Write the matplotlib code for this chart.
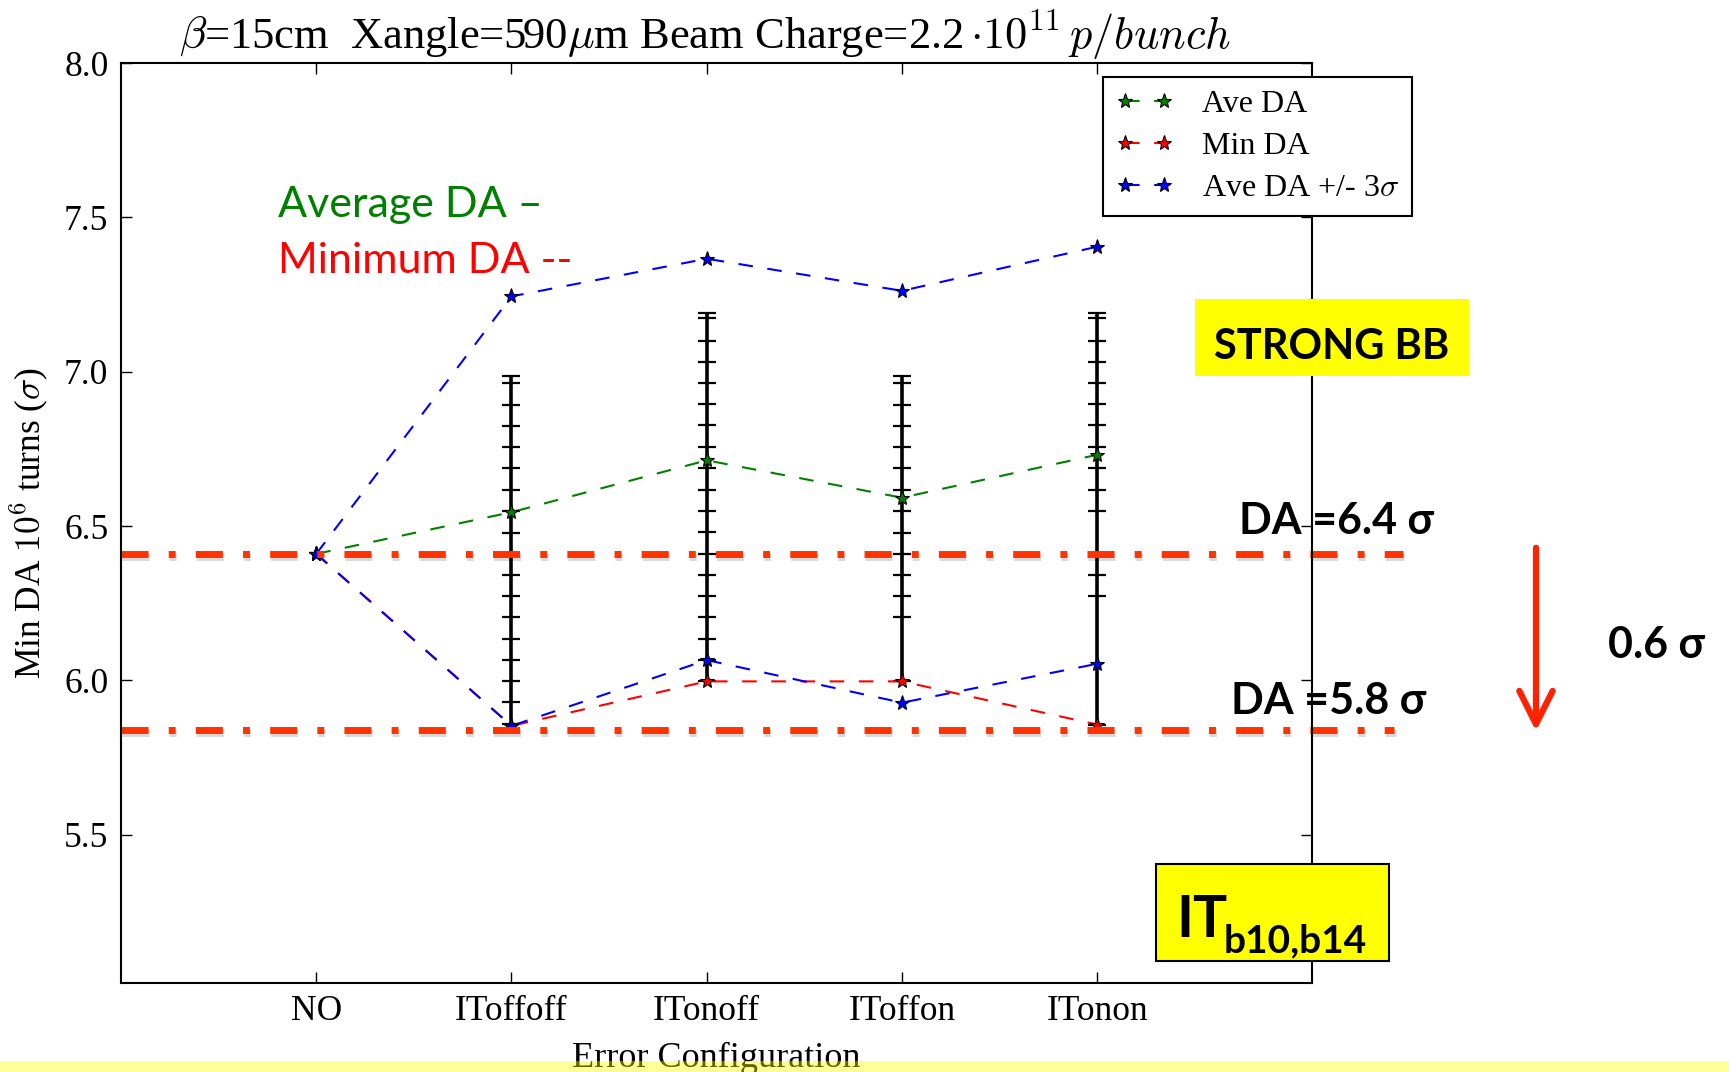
import matplotlib
matplotlib.use("Agg")
import matplotlib.pyplot as plt
import matplotlib.patheffects as pe
from matplotlib.patches import Rectangle, FancyArrowPatch
from matplotlib.transforms import blended_transform_factory

plt.rcParams['font.family'] = 'serif'
plt.rcParams['font.serif'] = ['Liberation Serif', 'DejaVu Serif']
plt.rcParams['mathtext.fontset'] = 'cm'

# données
configs = ['NO', 'IToffoff', 'ITonoff', 'IToffon', 'ITonon']
ave_da = [6.41, 6.545, 6.713, 6.592, 6.731]
min_da = [6.41, 5.853, 5.997, 5.997, 5.857]
ave_plus3 = [6.41, 7.244, 7.366, 7.262, 7.405]
ave_minus3 = [6.41, 5.853, 6.066, 5.928, 6.054]

# petites barres (caps) des barres d'erreur, par configuration
caps_offoff = [6.985, 6.964, 6.893, 6.825, 6.756, 6.687, 6.618, 6.549, 6.479, 6.411,
               6.342, 6.274, 6.204, 6.135, 6.067, 5.997, 5.929, 5.858, 5.84]
caps_onoff = [7.19, 7.173, 7.101, 7.032, 6.964, 6.895, 6.826, 6.756, 6.687, 6.618,
              6.550, 6.482, 6.411, 6.343, 6.274, 6.204, 6.135, 6.067, 5.997]
caps_offon = [6.985, 6.964, 6.893, 6.825, 6.756, 6.687, 6.618, 6.550, 6.479, 6.411,
              6.342, 6.274, 6.204, 5.997]
caps_onon = [7.19, 7.173, 7.101, 7.032, 6.964, 6.895, 6.826, 6.756, 6.687, 6.618,
             6.550, 6.411, 6.343, 6.274, 5.857]
caps_all = [None, caps_offoff, caps_onoff, caps_offon, caps_onon]

da_levels = [6.41, 5.84]

W, H = 1729, 1072
def fx(x):
    return x / W
def fy(y):
    return 1 - y / H

fig = plt.figure(figsize=(W / 100, H / 100), dpi=100)
ax = fig.add_axes([fx(121), fy(983), fx(1312) - fx(121), fy(63) - fy(983)])

xs = list(range(len(configs)))

# barres d'erreur
for i, caps in enumerate(caps_all):
    if caps is None:
        continue
    ax.vlines(i, min(caps), max(caps), color='k', lw=2.6, zorder=2.05)
    ax.plot([i] * len(caps), caps, ls='none', marker='_', ms=12.5, mew=1.6,
            color='k', zorder=2.05)

dash = (0, (7, 7))
ax.plot(xs, ave_da, ls=dash, lw=1.5, color='green', marker='*', ms=11,
        mec='k', mew=0.8, label='Ave DA', zorder=2.1)
ax.plot(xs, min_da, ls=dash, lw=1.5, color='red', marker='*', ms=11,
        mec='k', mew=0.8, label='Min DA', zorder=2.1)
ax.plot(xs, ave_plus3, ls=dash, lw=1.5, color='blue', marker='*', ms=11,
        mec='k', mew=0.8, label=r'Ave DA +/- 3$\sigma$', zorder=2.1)
ax.plot(xs, ave_minus3, ls=dash, lw=1.5, color='blue', marker='*', ms=11,
        mec='k', mew=0.8, zorder=2.1)

ax.set_xlim(-1, 5.1)
ax.set_ylim(5.02, 8.0)
ax.set_xticks(xs)
ax.set_xticklabels(configs)
ax.set_yticks([5.5, 6.0, 6.5, 7.0, 7.5, 8.0])
ax.tick_params(direction='in', length=8, width=1, top=True, right=True,
               labelsize=25.5, pad=9)
for s in ax.spines.values():
    s.set_linewidth(1.5)
ax.set_xlabel('Error Configuration', fontsize=26, labelpad=10)
ax.set_ylabel(r'Min DA $10^6$ turns ($\sigma$)', fontsize=25.5, labelpad=10)
ax.set_title(r'$\beta$=15cm  Xangle=590$\mu$m Beam Charge=2.2$\,{\cdot}10^{11}\,p/bunch$',
             fontsize=32, pad=10, x=0.49)

leg = ax.legend(loc='upper left', bbox_to_anchor=(fx(1103), fy(77)),
                bbox_transform=fig.transFigure, borderaxespad=0, numpoints=2,
                fontsize=23, handlelength=1.8, handletextpad=0.9,
                labelspacing=0.4, fancybox=False, framealpha=1)
leg.get_frame().set_edgecolor('k')
leg.get_frame().set_linewidth(1.5)

# lignes DA en tirets-points (annotation)
trans = blended_transform_factory(ax.transAxes, ax.transData)
shadow = [pe.SimpleLineShadow(offset=(1, -2), shadow_color='k', alpha=0.15), pe.Normal()]
for lev, xend in zip(da_levels, [1.076, 1.069]):
    ax.plot([0, xend], [lev, lev], transform=trans, clip_on=False, color='#FF3300',
            lw=5, ls=(0, (3.9, 2.9, 1.0, 2.9)), zorder=2.3, path_effects=shadow)

sans = ['Lato', 'DejaVu Sans']
ax.text(fx(1239), fy(534), 'DA =6.4 σ', transform=fig.transFigure, fontsize=31,
        fontweight='bold', family=sans, ha='left', va='baseline', zorder=2.4, clip_on=False)
ax.text(fx(1231), fy(714), 'DA =5.8 σ', transform=fig.transFigure, fontsize=31,
        fontweight='bold', family=sans, ha='left', va='baseline', zorder=2.4, clip_on=False)
fig.text(fx(1608), fy(658), '0.6 σ', fontsize=31, fontweight='bold', family=sans,
         ha='left', va='baseline')
fig.text(fx(278), fy(217), 'Average DA –', fontsize=31, color='green', family=sans,
         ha='left', va='baseline')
fig.text(fx(278), fy(273), 'Minimum DA --', fontsize=31, color='red', family=sans,
         ha='left', va='baseline')

arrow = FancyArrowPatch((fx(1536), fy(545)), (fx(1536), fy(734)), transform=fig.transFigure,
                        arrowstyle='->,head_length=24,head_width=12', mutation_scale=1,
                        lw=4.5, color='#FF2200')
fig.add_artist(arrow)

# encadrés jaunes
fig.add_artist(Rectangle((fx(1195), fy(376)), fx(1469) - fx(1195), fy(299) - fy(376),
                         transform=fig.transFigure, fc='#FFFF00', ec='none'))
fig.text(fx(1214), fy(359), 'STRONG BB', fontsize=30, fontweight='bold', family=sans,
         ha='left', va='baseline')
fig.add_artist(Rectangle((fx(1156), fy(961)), fx(1389) - fx(1156), fy(864) - fy(961),
                         transform=fig.transFigure, fc='#FFFF00', ec='k', lw=1.5))
fig.text(fx(1176), fy(937), 'IT', fontsize=41, fontweight='bold', family=sans,
         ha='left', va='baseline')
fig.text(fx(1224), fy(952), 'b10,b14', fontsize=28, fontweight='bold', family=sans,
         ha='left', va='baseline')

# bande jaune en bas
fig.add_artist(Rectangle((0, 0), 1, fy(1061), transform=fig.transFigure,
                         fc='#FFFF00', ec='none', alpha=0.4, zorder=5))

fig.savefig('out.png', dpi=100)
